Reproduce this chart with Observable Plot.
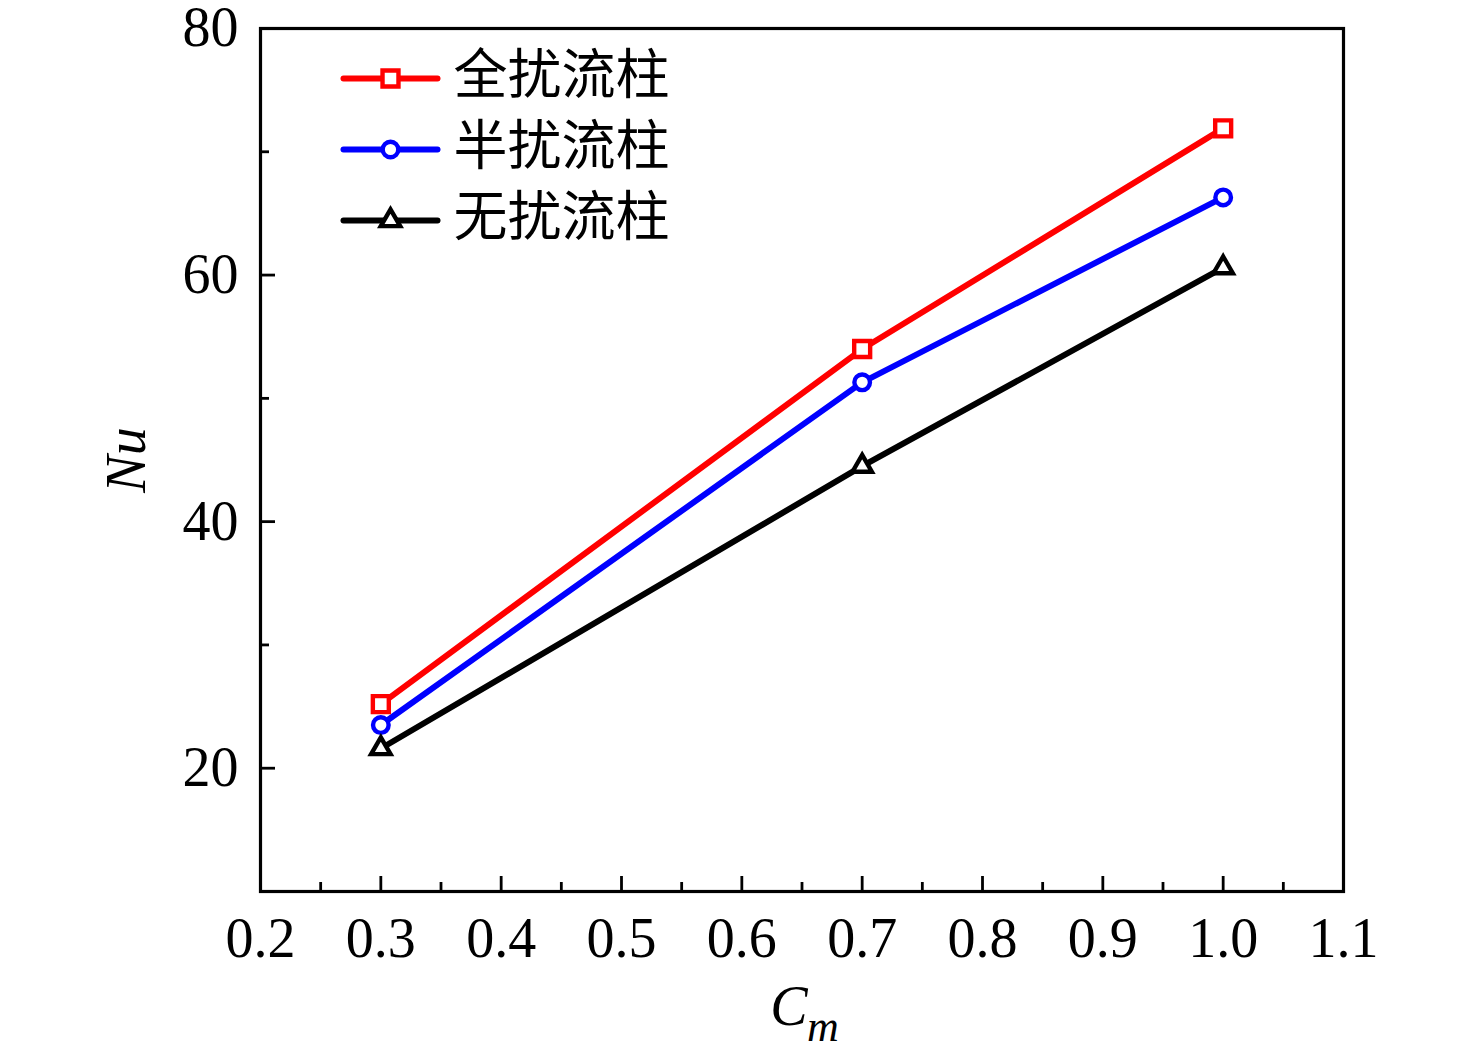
<!DOCTYPE html>
<html><head><meta charset="utf-8">
<script src="https://cdn.jsdelivr.net/npm/d3@7"></script>
<script src="https://cdn.jsdelivr.net/npm/@observablehq/plot@0.6"></script>
<style>
body{margin:0;background:#fff;}
#wrap{position:relative;width:1476px;height:1054px;}
#wrap svg{display:block;max-width:none;}
#legend{position:absolute;left:330px;top:40px;}
</style></head><body><div id="wrap"><div id="main"></div><div id="legend"></div></div>
<script>
const cm = [0.3, 0.7, 1.0];
const seriesNames = ["全扰流柱", "半扰流柱", "无扰流柱"];
const fullCol = [25.2, 54.0, 71.9];
const halfCol = [23.5, 51.3, 66.3];
const noCol = [21.6, 44.5, 60.6];
const xTicks = [0.2, 0.3, 0.4, 0.5, 0.6, 0.7, 0.8, 0.9, 1.0, 1.1];
const xMinor = [0.25, 0.35, 0.45, 0.55, 0.65, 0.75, 0.85, 0.95, 1.05];
const yTicks = [20, 40, 60, 80];
const yMinor = [30, 50, 70];
const colors = ["#ff0000", "#0000ff", "#000000"];
const symbols = ["square", "circle", "triangle"];
const symbolR = [9, 7.8, 7.2];

const seriesValues = [fullCol, halfCol, noCol];
const rows = seriesNames.flatMap((s, i) => cm.map((x, j) => ({series: s, x, y: seriesValues[i][j]})));

const font = "'Liberation Serif','Times New Roman','Noto Sans CJK SC',serif";

const dotMarks = (data, xk, yk) => seriesNames.map((s, i) =>
  Plot.dot(data.filter(d => d.series === s), {
    x: xk, y: yk, symbol: () => symbols[i], stroke: colors[i], fill: "white",
    strokeWidth: 4.4, r: symbolR[i]
  })
);

const chart = Plot.plot({
  width: 1476, height: 1054,
  marginLeft: 260, marginRight: 133, marginTop: 28, marginBottom: 163,
  style: {fontFamily: font, fontSize: "56px", background: "white", color: "black", overflow: "visible"},
  x: {domain: [0.2, 1.1], label: null},
  y: {domain: [10, 80], label: null},
  color: {domain: seriesNames, range: colors},
  symbol: {domain: seriesNames, range: symbols},
  marks: [
    Plot.axisX(xTicks, {tickSize: -15, tickFormat: () => "", strokeWidth: 2.8}),
    Plot.axisX(xMinor, {tickSize: -9, tickFormat: () => "", strokeWidth: 2.8}),
    Plot.axisX(xTicks, {tickSize: 0, tickPadding: 26, tickFormat: d3.format(".1f"), fontSize: 56}),
    Plot.axisY(yTicks, {tickSize: -15, tickFormat: () => "", strokeWidth: 2.8}),
    Plot.axisY(yMinor, {tickSize: -9, tickFormat: () => "", strokeWidth: 2.8}),
    Plot.axisY(yTicks, {tickSize: 0, tickPadding: 22, fontSize: 56}),
    Plot.frame({stroke: "black", strokeWidth: 3.2}),
    Plot.line(rows, {x: "x", y: "y", z: "series", stroke: "series", strokeWidth: 6}),
    ...dotMarks(rows, "x", "y"),
    Plot.text(["Nu"], {text: d => d, frameAnchor: "left", textAnchor: "middle", lineAnchor: "middle", dx: -133, rotate: -90, fontStyle: "italic", fontSize: 56}),
    Plot.text(["C"], {text: d => d, frameAnchor: "bottom", textAnchor: "middle", lineAnchor: "middle", dx: -13, dy: 116, fontStyle: "italic", fontSize: 56}),
    Plot.text(["m"], {text: d => d, frameAnchor: "bottom", textAnchor: "middle", lineAnchor: "middle", dx: 21, dy: 135, fontStyle: "italic", fontSize: 44})
  ]
});
document.getElementById("main").appendChild(chart);

const legendEnds = [0, 1];
const legendMid = 0.5;
const legRows = seriesNames.flatMap(s => legendEnds.map(t => ({series: s, t})));
const legDots = seriesNames.map(s => ({series: s, t: legendMid}));
const legend = Plot.plot({
  width: 360, height: 220, margin: 0,
  style: {fontFamily: font, fontSize: "54px", background: "transparent", color: "black", overflow: "visible"},
  x: {domain: [0, 1], range: [13, 107], axis: null},
  y: {domain: seriesNames, range: [38, 180], type: "point", padding: 0, axis: null},
  color: {domain: seriesNames, range: colors},
  marks: [
    Plot.line(legRows, {x: "t", y: "series", z: "series", stroke: "series", strokeWidth: 6, strokeLinecap: "round"}),
    ...dotMarks(legDots, "t", "series"),
    Plot.text(seriesNames, {x: () => 1, y: d => d, text: d => d, dx: 16, dy: -2, textAnchor: "start", fontSize: 54})
  ]
});
document.getElementById("legend").appendChild(legend);
</script>
</body></html>
